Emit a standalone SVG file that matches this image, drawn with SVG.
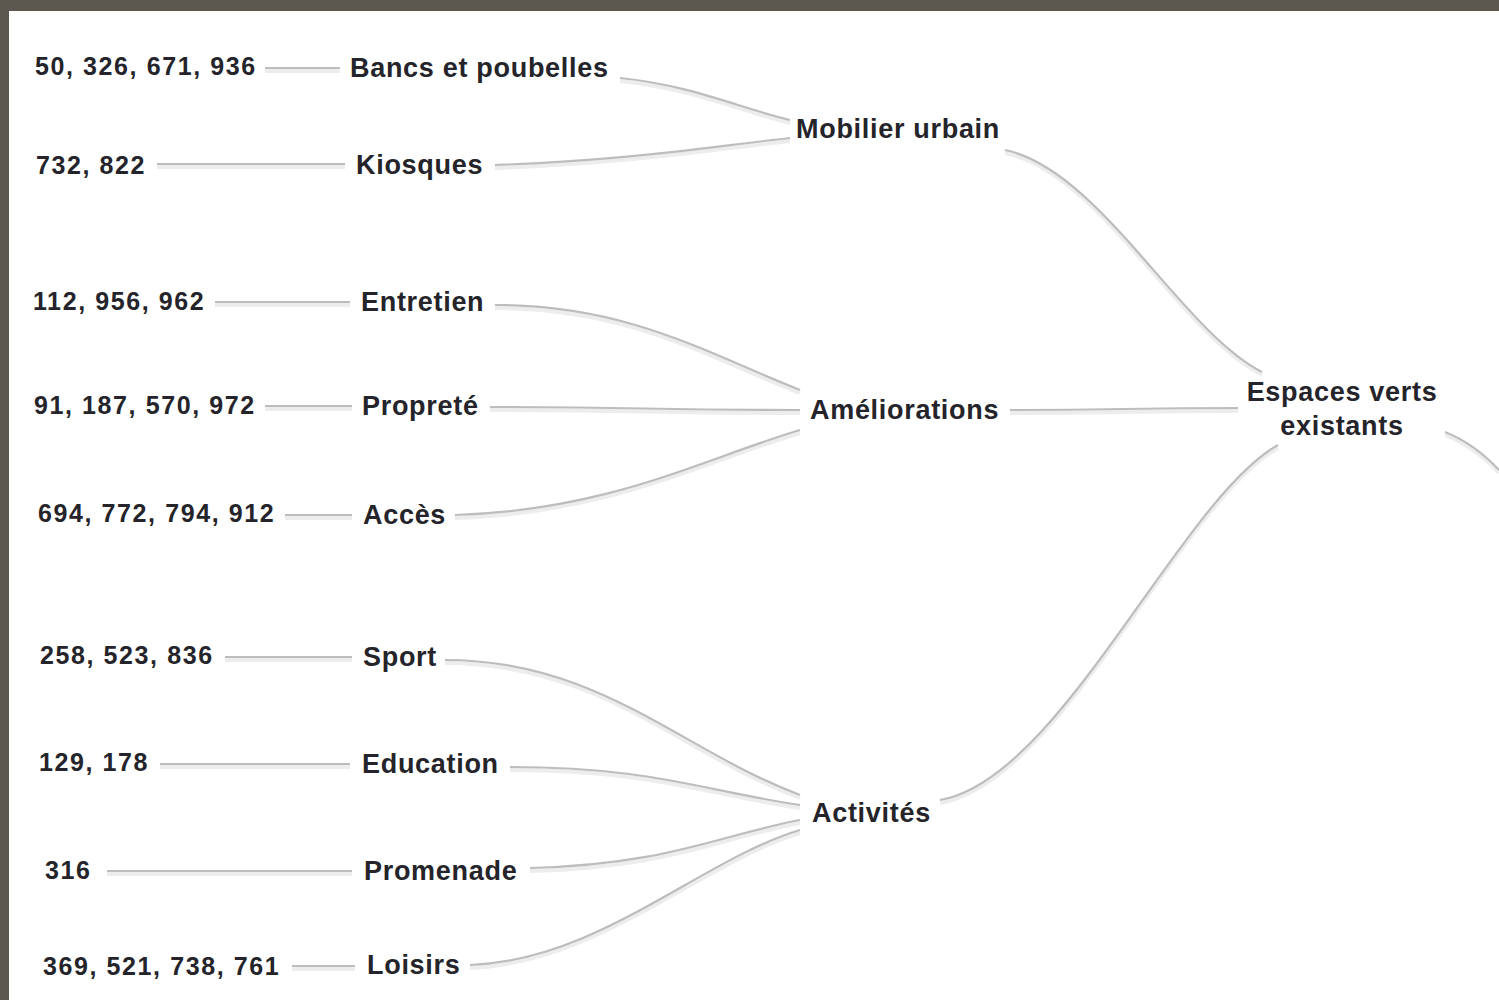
<svg xmlns="http://www.w3.org/2000/svg" width="1499" height="1000" viewBox="0 0 1499 1000">
<style>
.num{font-family:"Liberation Sans",Arial,sans-serif;font-weight:bold;font-size:25px;letter-spacing:1.6px;fill:#24242a}
.lbl{font-family:"Liberation Sans",Arial,sans-serif;font-weight:bold;font-size:27px;letter-spacing:0.7px;fill:#24242a}
.ln{fill:none;stroke:#bdbdbd;stroke-width:2.2}
.sh{fill:none;stroke:#ededed;stroke-width:4}
</style>
<rect x="0" y="0" width="1499" height="1000" fill="#ffffff"/>
<rect x="0" y="0" width="1499" height="11" fill="#5b5850"/>
<rect x="0" y="0" width="9" height="1000" fill="#5b5850"/>
<g id="connectors">
<g transform="translate(0,3)">
<path class="sh" d="M265,68 H340 M157,164 H345 M215,302 H350 M265,406 H352 M285,515 H352 M225,657 H352 M160,764 H350 M107,871 H352 M292,966 H355"/>
<path class="sh" d="M620,78 C690,85 740,108 790,120 M495,165 C630,160 700,148 790,138 M495,305 C630,305 710,355 800,390 M490,407 C645,407 645,410 800,410 M455,515 C610,510 700,460 800,430 M445,660 C600,660 680,750 800,795 M510,767 C650,767 700,790 800,805 M530,868 C665,865 720,835 800,820 M470,965 C600,960 700,860 800,830 M1005,150 C1100,170 1180,330 1262,372 M1010,410 C1124,410 1124,408 1238,408 M940,800 C1060,780 1180,500 1278,445 M1445,432 C1465,440 1485,455 1499,470"/>
</g>
<path class="ln" d="M265,68 H340 M157,164 H345 M215,302 H350 M265,406 H352 M285,515 H352 M225,657 H352 M160,764 H350 M107,871 H352 M292,966 H355"/>
<path class="ln" d="M620,78 C690,85 740,108 790,120 M495,165 C630,160 700,148 790,138 M495,305 C630,305 710,355 800,390 M490,407 C645,407 645,410 800,410 M455,515 C610,510 700,460 800,430 M445,660 C600,660 680,750 800,795 M510,767 C650,767 700,790 800,805 M530,868 C665,865 720,835 800,820 M470,965 C600,960 700,860 800,830 M1005,150 C1100,170 1180,330 1262,372 M1010,410 C1124,410 1124,408 1238,408 M940,800 C1060,780 1180,500 1278,445 M1445,432 C1465,440 1485,455 1499,470"/>
</g>
<g id="n-50"><text class="num" x="35" y="75">50, 326, 671, 936</text></g>
<g id="n-732"><text class="num" x="36" y="174">732, 822</text></g>
<g id="n-112"><text class="num" x="33" y="310">112, 956, 962</text></g>
<g id="n-91"><text class="num" x="34" y="414">91, 187, 570, 972</text></g>
<g id="n-694"><text class="num" x="38" y="522">694, 772, 794, 912</text></g>
<g id="n-258"><text class="num" x="40" y="664">258, 523, 836</text></g>
<g id="n-129"><text class="num" x="39" y="771">129, 178</text></g>
<g id="n-316"><text class="num" x="45" y="879">316</text></g>
<g id="n-369"><text class="num" x="43" y="975">369, 521, 738, 761</text></g>
<g id="bancs"><text class="lbl" x="350" y="77">Bancs et poubelles</text></g>
<g id="kiosques"><text class="lbl" x="356" y="174">Kiosques</text></g>
<g id="entretien"><text class="lbl" x="361" y="311">Entretien</text></g>
<g id="proprete"><text class="lbl" x="362" y="415">Propreté</text></g>
<g id="acces"><text class="lbl" x="363" y="524">Accès</text></g>
<g id="sport"><text class="lbl" x="363" y="666">Sport</text></g>
<g id="education"><text class="lbl" x="362" y="773">Education</text></g>
<g id="promenade"><text class="lbl" x="364" y="880">Promenade</text></g>
<g id="loisirs"><text class="lbl" x="367" y="974">Loisirs</text></g>
<g id="mobilier"><text class="lbl" x="796" y="138">Mobilier urbain</text></g>
<g id="ameliorations"><text class="lbl" x="810" y="419">Améliorations</text></g>
<g id="activites"><text class="lbl" x="812" y="822">Activités</text></g>
<g id="espaces"><text class="lbl" x="1342" y="401" text-anchor="middle">Espaces verts</text><text class="lbl" x="1342" y="435" text-anchor="middle">existants</text></g>
</svg>
